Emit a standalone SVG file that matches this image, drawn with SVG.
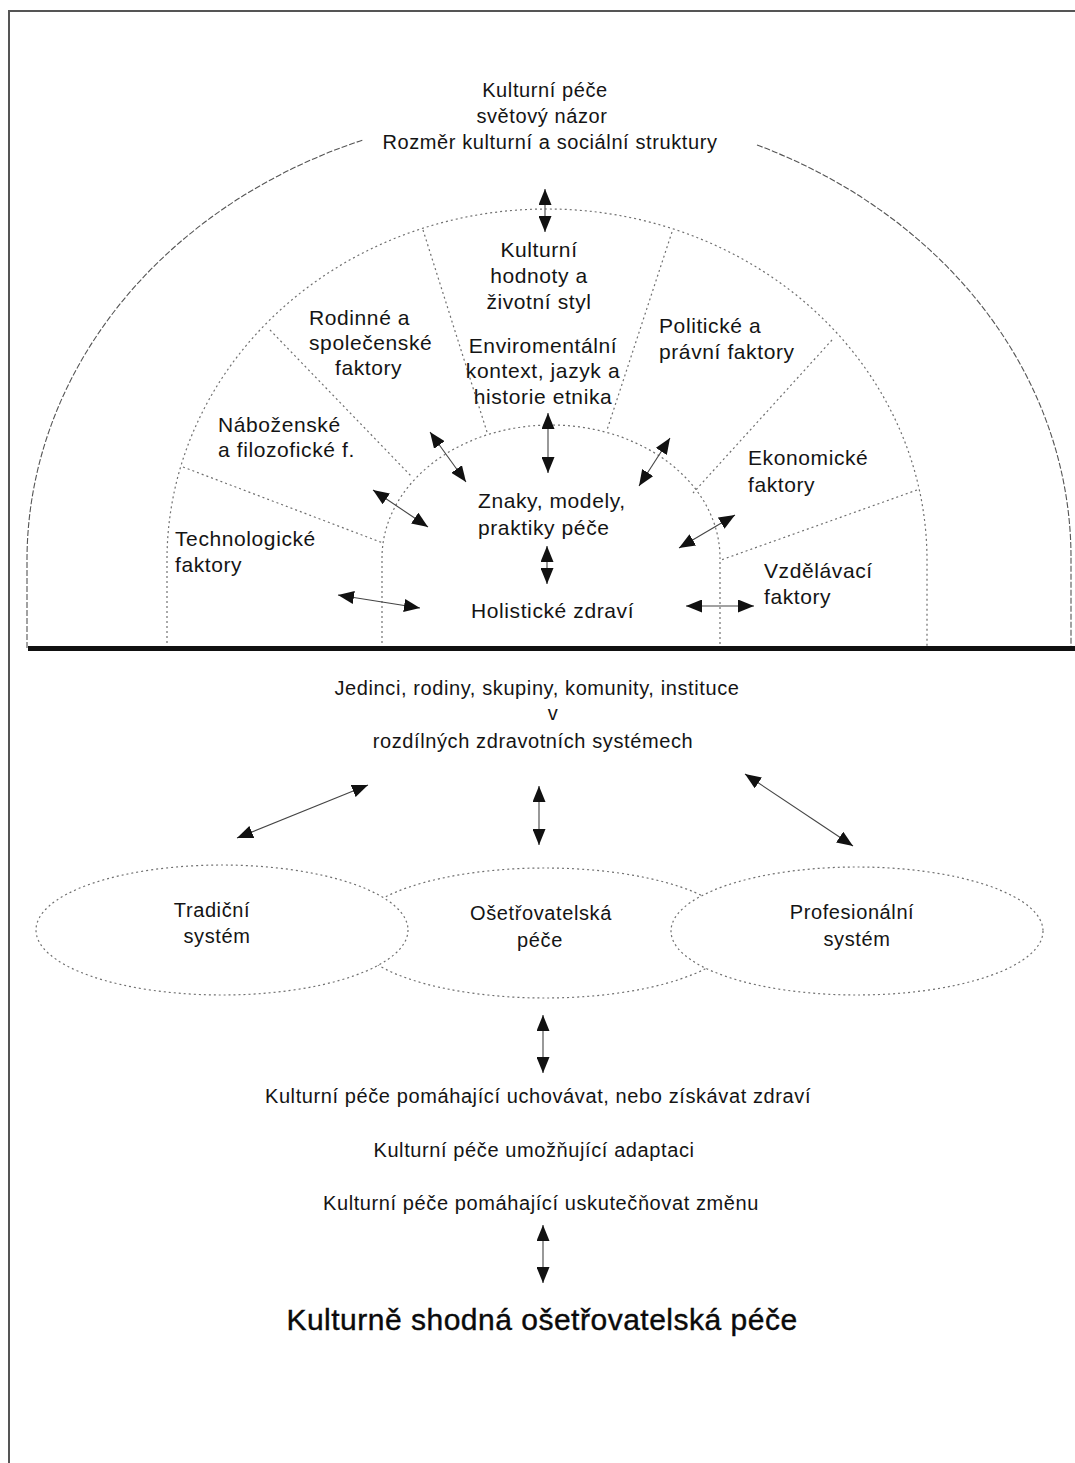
<svg xmlns="http://www.w3.org/2000/svg" width="1075" height="1463" viewBox="0 0 1075 1463">
<style>
  .t { font-family: "Liberation Sans", Arial, sans-serif; font-size: 20px; letter-spacing: 0.6px; fill: #141414; }
  .s { font-family: "Liberation Sans", Arial, sans-serif; font-size: 21px; letter-spacing: 0.6px; fill: #141414; }
  .big { font-family: "Liberation Sans", Arial, sans-serif; font-size: 30px; letter-spacing: 0.5px; fill: #0a0a0a; stroke: #0a0a0a; stroke-width: 0.4; }
  .m { text-anchor: middle; }
  .outer { fill: none; stroke: #555; stroke-width: 1.1; stroke-dasharray: 6 2; }
  .dot { fill: none; stroke: #707070; stroke-width: 1.2; stroke-dasharray: 2 3; }
  .ell { fill: #fff; stroke: #707070; stroke-width: 1.2; stroke-dasharray: 2 3; }
  .arr { fill: none; stroke: #444; stroke-width: 1.1; marker-start: url(#head); marker-end: url(#head); }
</style>
<defs>
  <marker id="head" viewBox="0 0 16 13" markerWidth="16" markerHeight="13" markerUnits="userSpaceOnUse" refX="16" refY="6.5" orient="auto-start-reverse">
    <path d="M0,0 L16,6.5 L0,13 z" fill="#111"/>
  </marker>
</defs>
<rect width="1075" height="1463" fill="#fff"/>
<path id="frame" d="M9,1463 L9,11 L1075,11" fill="none" stroke="#555" stroke-width="2"/>

<g id="rings">
  <path class="outer" d="M27,648 L27,560 A522,450 0 0,1 363,140"/>
  <path class="outer" d="M757,145 A522,450 0 0,1 1071,560 L1071,648"/>
  <path class="dot" d="M167,648 L167,560 A380,351 0 0,1 927,560 L927,648"/>
  <path class="dot" d="M382,648 L382,558 A169,133 0 0,1 720,558 L720,648"/>
  <line class="dot" x1="423" y1="230" x2="487" y2="432"/>
  <line class="dot" x1="672" y1="232" x2="607" y2="430"/>
  <line class="dot" x1="270" y1="330" x2="412" y2="477"/>
  <line class="dot" x1="183" y1="467" x2="383" y2="543"/>
  <line class="dot" x1="832" y1="340" x2="693" y2="493"/>
  <line class="dot" x1="917" y1="490" x2="721" y2="560"/>
</g>
<line id="divider" x1="28" y1="648.5" x2="1075" y2="648.5" stroke="#111" stroke-width="5"/>

<g id="worldview">
  <text class="t m" x="545" y="97">Kulturní péče</text>
  <text class="t m" x="542" y="123">světový názor</text>
  <text class="t m" x="550" y="149">Rozměr kulturní a sociální struktury</text>
</g>
<g id="cultural-values">
  <text class="s m" x="539" y="257">Kulturní</text>
  <text class="s m" x="539" y="283">hodnoty a</text>
  <text class="s m" x="539" y="309">životní styl</text>
</g>
<g id="family-social">
  <text class="s" x="309" y="325">Rodinné a</text>
  <text class="s" x="309" y="350">společenské</text>
  <text class="s" x="335" y="375">faktory</text>
</g>
<g id="environment">
  <text class="s m" x="543" y="353">Enviromentální</text>
  <text class="s m" x="543" y="378">kontext, jazyk a</text>
  <text class="s m" x="543" y="404">historie etnika</text>
</g>
<g id="political-legal">
  <text class="s" x="659" y="333">Politické a</text>
  <text class="s" x="659" y="359">právní faktory</text>
</g>
<g id="religious">
  <text class="s" x="218" y="432">Náboženské</text>
  <text class="s" x="218" y="457">a filozofické f.</text>
</g>
<g id="economic">
  <text class="s" x="748" y="465">Ekonomické</text>
  <text class="s" x="748" y="492">faktory</text>
</g>
<g id="technological">
  <text class="s" x="175" y="546">Technologické</text>
  <text class="s" x="175" y="572">faktory</text>
</g>
<g id="educational">
  <text class="s" x="764" y="578">Vzdělávací</text>
  <text class="s" x="764" y="604">faktory</text>
</g>
<g id="care-patterns">
  <text class="s" x="478" y="508">Znaky, modely,</text>
  <text class="s" x="478" y="535">praktiky péče</text>
</g>
<g id="holistic-health">
  <text class="s" x="471" y="618">Holistické zdraví</text>
</g>

<g id="individuals">
  <text class="t m" x="537" y="695">Jedinci, rodiny, skupiny, komunity, instituce</text>
  <text class="t m" x="553" y="720">v</text>
  <text class="t m" x="533" y="748">rozdílných zdravotních systémech</text>
</g>

<g id="nursing-care">
  <ellipse class="ell" cx="545" cy="933" rx="192" ry="65"/>
  <text class="t m" x="541" y="920">Ošetřovatelská</text>
  <text class="t m" x="540" y="947">péče</text>
</g>
<g id="traditional-system">
  <ellipse class="ell" cx="222" cy="930" rx="186" ry="65"/>
  <text class="t m" x="212" y="917">Tradiční</text>
  <text class="t m" x="217" y="943">systém</text>
</g>
<g id="professional-system">
  <ellipse class="ell" cx="857" cy="931" rx="186" ry="64"/>
  <text class="t m" x="852" y="919">Profesionální</text>
  <text class="t m" x="857" y="946">systém</text>
</g>

<g id="care-decisions">
  <text class="t m" x="538" y="1103">Kulturní péče pomáhající uchovávat, nebo získávat zdraví</text>
  <text class="t m" x="534" y="1157">Kulturní péče umožňující adaptaci</text>
  <text class="t m" x="541" y="1210">Kulturní péče pomáhající uskutečňovat změnu</text>
</g>
<g id="congruent-care">
  <text class="big m" x="542" y="1330">Kulturně shodná ošetřovatelská péče</text>
</g>

<g id="connectors">
  <line class="arr" x1="545" y1="189" x2="545" y2="232"/>
  <line class="arr" x1="548" y1="413" x2="548" y2="473"/>
  <line class="arr" x1="547" y1="546" x2="547" y2="584"/>
  <line class="arr" x1="430" y1="432" x2="466" y2="482"/>
  <line class="arr" x1="670" y1="438" x2="639" y2="486"/>
  <line class="arr" x1="373" y1="490" x2="428" y2="527"/>
  <line class="arr" x1="735" y1="515" x2="679" y2="548"/>
  <line class="arr" x1="338" y1="595" x2="420" y2="608"/>
  <line class="arr" x1="686" y1="606" x2="754" y2="606"/>
  <line class="arr" x1="237" y1="838" x2="368" y2="785"/>
  <line class="arr" x1="539" y1="786" x2="539" y2="845"/>
  <line class="arr" x1="745" y1="774" x2="853" y2="846"/>
  <line class="arr" x1="543" y1="1015" x2="543" y2="1073"/>
  <line class="arr" x1="543" y1="1225" x2="543" y2="1283"/>
</g>
</svg>
